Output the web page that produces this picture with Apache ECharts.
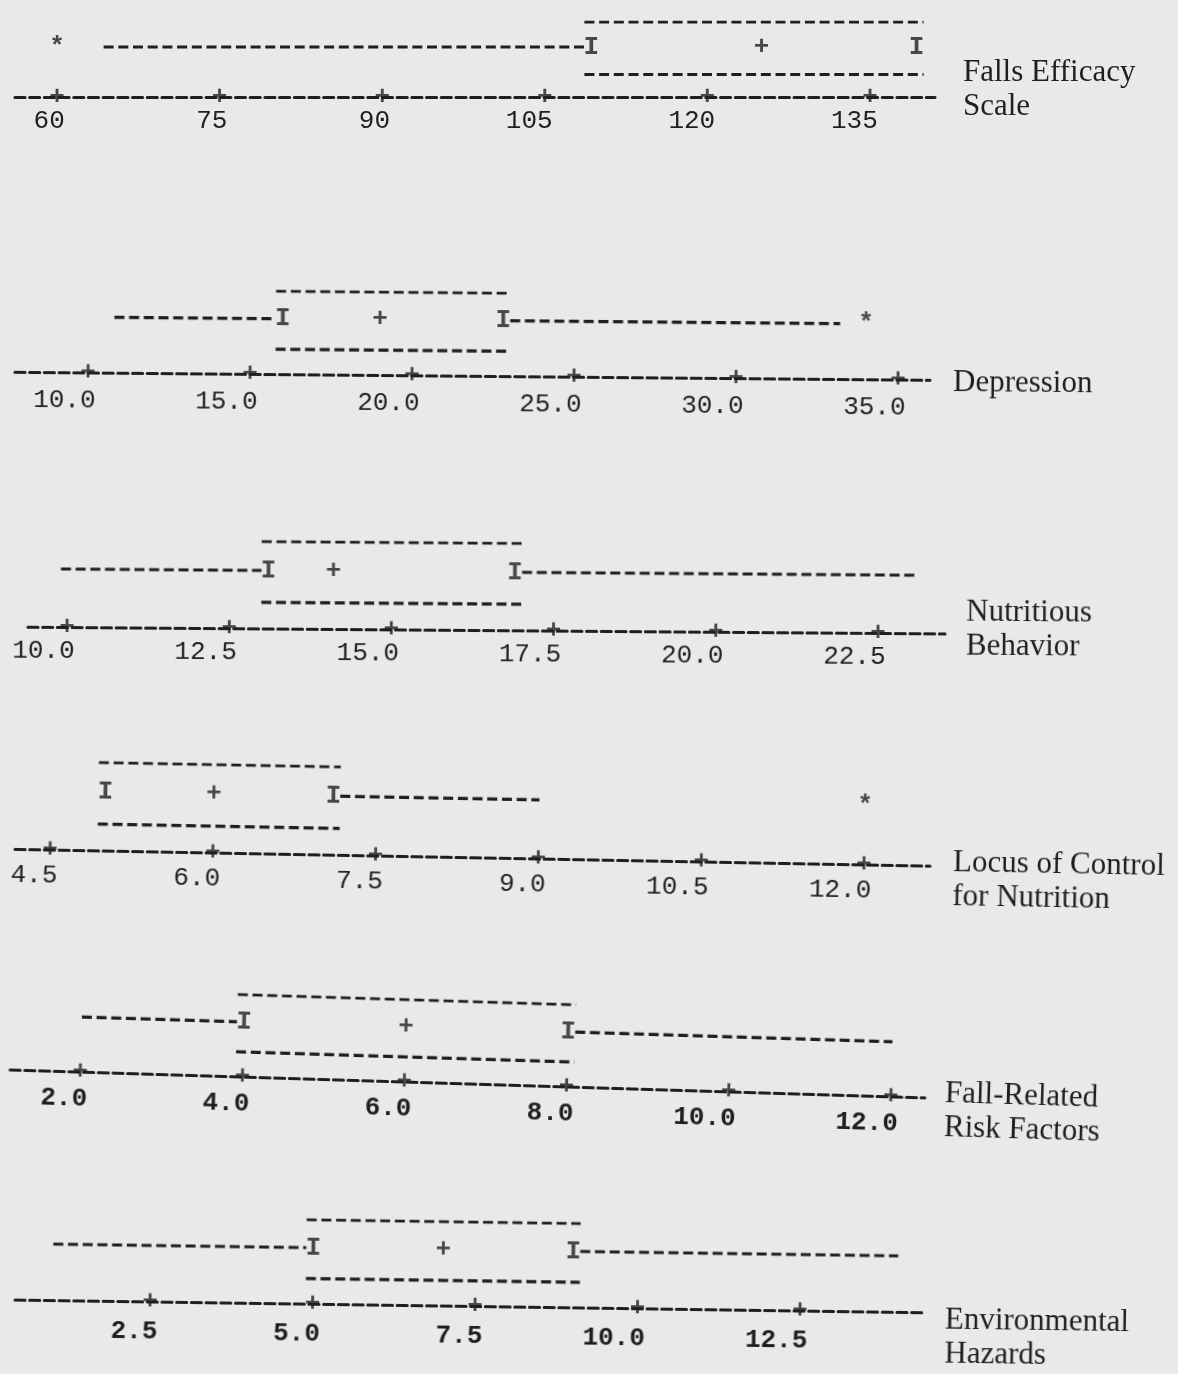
<!DOCTYPE html>
<html>
<head>
<meta charset="utf-8">
<title>Box plots</title>
<script src="https://cdn.jsdelivr.net/npm/echarts@6/dist/echarts.min.js"></script>
<style>
html,body{margin:0;padding:0;background:#e9e9e9;}
#main{position:relative;width:1178px;height:1374px;overflow:hidden;}
.panel{position:absolute;left:0;top:0;width:1178px;height:1374px;}
</style>
</head>
<body>
<div id="main"></div>
<script>
// names printed to the right of each plot
var names = ['Falls Efficacy\nScale', 'Depression', 'Nutritious\nBehavior',
             'Locus of Control\nfor Nutrition', 'Fall-Related\nRisk Factors', 'Environmental\nHazards'];

// axis tick labels
var ticks1 = [60, 75, 90, 105, 120, 135];
var ticks2 = [10, 15, 20, 25, 30, 35];
var ticks3 = [10, 12.5, 15, 17.5, 20, 22.5];
var ticks4 = [4.5, 6, 7.5, 9, 10.5, 12];
var ticks5 = [2, 4, 6, 8, 10, 12];
var ticks6 = [2.5, 5, 7.5, 10, 12.5];

// [whisker low, Q1, median, Q3, whisker high]
var box1 = [64.3, 109.3, 125.0, 139.3, 139.3];
var box2 = [10.8, 16.0, 19.0, 22.8, 33.2];
var box3 = [9.9, 13.1, 14.1, 16.9, 23.1];
var box4 = [5.0, 5.0, 6.0, 7.1, 9.0];
var box5 = [2.0, 4.0, 6.0, 8.0, 12.0];
var box6 = [1.0, 5.0, 7.0, 9.0, 14.0];

// outliers (*)
var out1 = [60];
var out2 = [34.0];
var out3 = [];
var out4 = [12.0];
var out5 = [];
var out6 = [];

var allTicks = [ticks1, ticks2, ticks3, ticks4, ticks5, ticks6];
var allBox = [box1, box2, box3, box4, box5, box6];
var allOut = [out1, out2, out3, out4, out5, out6];

// page layout in px: axis line start/end, first/last tick x, box top row y, axis y,
// title position, and the small skew of each strip on the scanned page (deg)
var layout = [
    {start: 15, end: 935, first: 57, last: 870, top: 22,   axis: 97,   margin: 11, dec: 0, bold: false, tx: 963, ty: 56,   rot: 0},
    {start: 15, end: 930, first: 88, last: 898, top: 293,  axis: 376,  margin: 15, dec: 1, bold: false, tx: 953, ty: 362,  rot: 0.5},
    {start: 28, end: 945, first: 67, last: 878, top: 543,  axis: 630,  margin: 11, dec: 1, bold: false, tx: 966, ty: 592,  rot: 0.42},
    {start: 15, end: 930, first: 50, last: 864, top: 769,  axis: 857,  margin: 13, dec: 1, bold: false, tx: 953, ty: 837,  rot: 1.05},
    {start: 10, end: 925, first: 80, last: 891, top: 1002, axis: 1084, margin: 14, dec: 1, bold: true,  tx: 945, ty: 1063, rot: 1.75},
    {start: 15, end: 925, first: 150, last: 800, top: 1222, axis: 1306, margin: 17, dec: 1, bold: true,  tx: 945, ty: 1297, rot: 0.8}
];

var ink = '#1f1f1f';
var mono = 'Liberation Mono';
var ROW_AXIS = 0, ROW_LOW = 0.9, ROW_MID = 2, ROW_TOP = 3;
var dash = [10, 4.7];

function seg(a, b, y) {
    return {
        type: 'line', data: [[a, y], [b, y]], symbol: 'none', silent: true,
        lineStyle: {type: dash, width: 3.2, color: ink}
    };
}

function glyph(ch, pts, y) {
    return {
        type: 'scatter', z: 4, silent: true,
        data: pts.map(function (v) { return [v, y]; }),
        symbolSize: 1, itemStyle: {color: 'rgba(0,0,0,0)'},
        label: {show: true, position: 'inside', formatter: ch,
                fontFamily: mono, fontSize: 26, fontWeight: 'bold', color: ink}
    };
}

function labelFmt(d) {
    // pad so the last digit sits under the tick, as in the printout
    return function (v) {
        var s = v.toFixed(d);
        return s + new Array(s.length).join(' ');
    };
}

var main = document.getElementById('main');

for (var i = 0; i < 6; i++) {
    var L = layout[i], t = allTicks[i], b = allBox[i];
    var ppu = (L.last - L.first) / (t[t.length - 1] - t[0]);
    var half = 7 / ppu;   // half a character width, in data units

    var div = document.createElement('div');
    div.className = 'panel';
    div.style.transformOrigin = ((L.first + L.last) / 2) + 'px ' + L.axis + 'px';
    div.style.transform = 'rotate(' + L.rot + 'deg)';
    main.appendChild(div);

    var series = [];
    // whiskers
    if (b[0] < b[1]) series.push(seg(b[0], b[1] - half, ROW_MID));
    if (b[4] > b[3]) series.push(seg(b[3] + half, b[4], ROW_MID));
    // box edges
    series.push(seg(b[1] - half, b[3] + half, ROW_TOP));
    series.push(seg(b[1] - half, b[3] + half, ROW_LOW));
    // quartile ends, median, outliers, axis ticks
    series.push(glyph('I', [b[1], b[3]], ROW_MID));
    series.push(glyph('+', [b[2]], ROW_MID));
    if (allOut[i].length) series.push(glyph('*', allOut[i], ROW_MID));
    series.push(glyph('+', t, ROW_AXIS));

    var chart = echarts.init(div);
    chart.setOption({
        backgroundColor: 'transparent',
        animation: false,
        title: {
            text: names[i], left: L.tx, top: L.ty, padding: 0,
            textStyle: {fontFamily: 'Liberation Serif', fontSize: 31, fontWeight: 'normal',
                        color: ink, lineHeight: 34}
        },
        grid: {left: L.start, width: L.end - L.start, top: L.top, height: L.axis - L.top},
        xAxis: {
            type: 'value',
            min: t[0] - (L.first - L.start) / ppu,
            max: t[t.length - 1] + (L.end - L.last) / ppu,
            splitLine: {show: false},
            axisTick: {show: false},
            axisLine: {show: true, lineStyle: {type: dash, width: 3.2, color: ink}},
            axisLabel: {
                customValues: t, margin: L.margin,
                fontFamily: mono, fontSize: 26, color: ink,
                fontWeight: L.bold ? 'bold' : 'normal',
                formatter: labelFmt(L.dec)
            }
        },
        yAxis: {type: 'value', min: 0, max: 3, show: false},
        series: series
    });
}
</script>
</body>
</html>
